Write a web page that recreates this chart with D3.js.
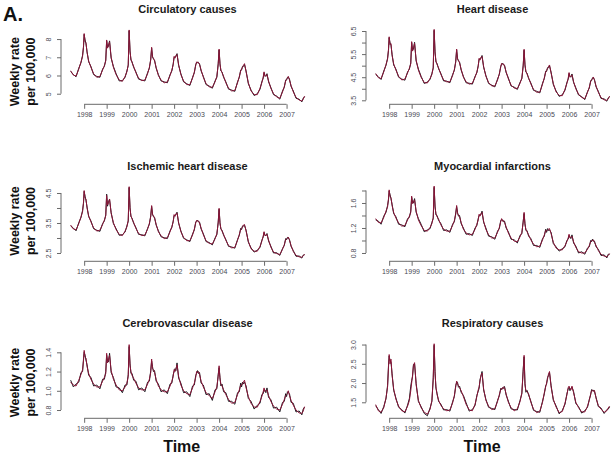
<!DOCTYPE html>
<html><head><meta charset="utf-8">
<script src="https://cdn.jsdelivr.net/npm/d3@7"></script>
<style>body{margin:0;background:#fff}svg{display:block}</style>
</head><body><svg id="c" width="613" height="455"></svg>
<script>
const TIME = [1997.40,1997.52,1997.64,1997.76,1997.86,1997.93,1997.97,
1998.00,1998.04,1998.08,1998.13,1998.20,1998.30,1998.42,1998.56,1998.70,1998.82,1998.90,1998.96,
1999.00,1999.04,1999.08,1999.13,1999.20,1999.30,1999.42,1999.56,1999.70,1999.82,1999.90,1999.96,
2000.00,2000.04,2000.08,2000.13,2000.20,2000.30,2000.42,2000.56,2000.70,2000.82,2000.90,2000.96,
2001.00,2001.04,2001.08,2001.13,2001.20,2001.30,2001.42,2001.56,2001.70,2001.82,2001.90,2001.96,
2002.00,2002.04,2002.08,2002.13,2002.20,2002.30,2002.42,2002.56,2002.70,2002.82,2002.90,2002.96,
2003.00,2003.04,2003.08,2003.13,2003.20,2003.30,2003.42,2003.56,2003.70,2003.82,2003.90,2003.96,
2004.00,2004.04,2004.08,2004.13,2004.20,2004.30,2004.42,2004.56,2004.70,2004.82,2004.90,2004.96,
2005.00,2005.04,2005.08,2005.13,2005.20,2005.30,2005.42,2005.56,2005.70,2005.82,2005.90,2005.96,
2006.00,2006.04,2006.08,2006.13,2006.20,2006.30,2006.42,2006.56,2006.70,2006.82,2006.90,2006.96,
2007.00,2007.04,2007.08,2007.13,2007.20,2007.30,2007.42,2007.56,2007.68,2007.74,2007.80];

const circFit = [6.26,6.02,5.97,6.35,6.75,7.05,7.6,8.3,7.85,7.8,
7.25,6.8,6.45,6.1,5.9,5.95,6.3,6.55,6.8,7.95,
7.5,7.65,7.85,7.0,6.45,6.05,5.75,5.68,5.95,6.2,
6.6,8.5,7.3,6.9,6.7,6.5,6.15,5.85,5.72,5.75,
6.1,6.45,6.85,7.55,7.0,6.95,6.8,6.45,6.0,5.75,
5.6,5.65,6.0,6.3,6.6,7.05,6.95,7.1,7.15,6.6,
6.05,5.7,5.5,5.5,5.85,6.2,6.55,6.75,6.7,6.72,
6.6,6.3,5.9,5.55,5.38,5.35,5.65,5.95,6.6,7.45,
6.6,6.3,6.15,5.95,5.6,5.3,5.15,5.18,5.6,5.95,
6.25,6.35,6.45,6.55,6.65,6.2,5.6,5.15,4.95,4.95,
5.3,5.6,5.9,6.2,5.95,6.0,6.05,5.7,5.3,5.0,
4.82,4.75,5.1,5.4,5.7,5.8,5.85,5.95,5.75,5.45,
5.1,4.8,4.65,4.6,4.7,4.87];
const circObs = [6.22,6.05,5.93,6.4,6.7,7.12,7.55,8.25,7.95,7.75,
7.3,6.75,6.5,6.05,5.95,5.9,6.35,6.5,6.85,7.9,
7.55,7.6,7.9,6.95,6.5,6.1,5.7,5.72,5.9,6.25,
6.55,8.45,7.35,6.85,6.75,6.45,6.2,5.8,5.75,5.7,
6.15,6.4,6.9,7.5,7.05,6.9,6.85,6.4,6.05,5.7,
5.65,5.6,6.05,6.25,6.65,7.0,7.0,7.05,7.2,6.55,
6.1,5.65,5.55,5.45,5.9,6.15,6.6,6.7,6.75,6.68,
6.65,6.25,5.95,5.5,5.42,5.3,5.7,5.9,6.65,7.4,
6.65,6.25,6.2,5.9,5.65,5.25,5.2,5.13,5.65,5.9,
6.3,6.3,6.5,6.5,6.6,6.25,5.55,5.2,4.9,5.0,
5.25,5.65,5.85,6.15,6.0,5.95,6.1,5.65,5.35,4.95,
4.87,4.7,5.15,5.35,5.75,5.75,5.9,5.9,5.8,5.4,
5.15,4.75,4.7,4.55,4.75,4.83];

const heartFit = [4.66,4.48,4.44,4.73,5.05,5.28,5.71,6.25,5.90,5.95,
5.44,5.08,4.81,4.54,4.38,4.42,4.69,4.89,5.08,6.04,
5.63,5.75,5.97,5.24,4.81,4.50,4.27,4.25,4.45,4.62,
4.93,6.57,5.55,5.20,5.05,4.90,4.62,4.38,4.30,4.30,
4.57,4.84,5.15,5.72,5.28,5.24,5.12,4.85,4.50,4.30,
4.20,4.24,4.50,4.73,4.97,5.32,5.24,5.36,5.40,4.97,
4.54,4.27,4.12,4.12,4.38,4.66,4.93,5.10,5.06,5.08,
4.98,4.74,4.43,4.16,4.03,4.01,4.24,4.47,4.98,5.71,
5.00,4.76,4.64,4.48,4.21,3.97,3.85,3.86,4.20,4.48,
4.72,4.79,4.87,4.95,5.03,4.68,4.22,3.87,3.71,3.70,
3.98,4.22,4.45,4.70,4.50,4.54,4.60,4.31,4.00,3.77,
3.62,3.57,3.84,4.07,4.31,4.39,4.43,4.51,4.36,4.12,
3.85,3.62,3.52,3.50,3.56,3.68];
const heartObs = [4.62,4.52,4.40,4.77,5.01,5.33,5.66,6.21,5.98,5.90,
5.49,5.03,4.85,4.50,4.42,4.37,4.73,4.85,5.12,6.00,
5.68,5.71,6.01,5.20,4.85,4.54,4.23,4.29,4.41,4.66,
4.89,6.53,5.60,5.16,5.09,4.86,4.66,4.34,4.33,4.26,
4.61,4.80,5.19,5.68,5.32,5.20,5.16,4.81,4.54,4.26,
4.24,4.20,4.54,4.69,5.01,5.28,5.28,5.32,5.44,4.93,
4.58,4.23,4.16,4.08,4.42,4.62,4.97,5.06,5.10,5.04,
5.02,4.70,4.47,4.12,4.07,3.97,4.28,4.43,5.02,5.67,
5.04,4.72,4.68,4.44,4.25,3.93,3.89,3.82,4.24,4.44,
4.76,4.75,4.91,4.91,4.99,4.72,4.18,3.91,3.67,3.74,
3.94,4.26,4.41,4.66,4.54,4.50,4.64,4.27,4.04,3.73,
3.66,3.53,3.88,4.03,4.35,4.35,4.47,4.47,4.40,4.08,
3.89,3.58,3.56,3.46,3.60,3.65];

const ischFit = [3.43,3.30,3.27,3.48,3.71,3.88,4.19,4.58,4.33,4.30,
3.99,3.74,3.54,3.34,3.23,3.26,3.45,3.60,3.74,4.42,
4.10,4.18,4.30,3.82,3.51,3.28,3.12,3.08,3.23,3.37,
3.59,4.71,3.97,3.74,3.63,3.52,3.32,3.15,3.08,3.10,
3.29,3.49,3.71,4.08,3.77,3.74,3.66,3.46,3.21,3.07,
2.98,3.01,3.21,3.38,3.54,3.78,3.72,3.81,3.83,3.52,
3.21,3.02,2.91,2.91,3.10,3.30,3.50,3.59,3.56,3.57,
3.50,3.33,3.11,2.91,2.82,2.80,2.97,3.14,3.50,3.99,
3.48,3.32,3.23,3.12,2.92,2.75,2.67,2.69,2.92,3.12,
3.29,3.31,3.37,3.43,3.45,3.23,2.89,2.64,2.56,2.56,
2.72,2.89,3.06,3.21,3.07,3.10,3.12,2.93,2.70,2.53,
2.48,2.45,2.62,2.78,2.95,2.97,2.99,3.03,2.92,2.75,
2.55,2.42,2.37,2.36,2.40,2.46];
const ischObs = [3.40,3.33,3.24,3.51,3.68,3.92,4.15,4.55,4.39,4.26,
4.03,3.71,3.57,3.31,3.26,3.22,3.48,3.57,3.77,4.46,
4.06,4.22,4.27,3.85,3.48,3.31,3.09,3.11,3.20,3.40,
3.56,4.68,4.01,3.71,3.66,3.49,3.35,3.12,3.11,3.07,
3.32,3.46,3.74,4.05,3.80,3.71,3.69,3.43,3.24,3.04,
3.01,2.98,3.24,3.35,3.57,3.75,3.75,3.78,3.86,3.49,
3.24,2.99,2.94,2.88,3.13,3.27,3.53,3.56,3.59,3.54,
3.53,3.30,3.14,2.88,2.85,2.77,3.00,3.11,3.53,3.96,
3.51,3.29,3.26,3.09,2.95,2.72,2.70,2.66,2.95,3.09,
3.32,3.28,3.40,3.40,3.42,3.26,2.86,2.67,2.53,2.59,
2.69,2.92,3.03,3.18,3.10,3.07,3.15,2.90,2.73,2.50,
2.51,2.42,2.65,2.75,2.98,2.94,3.02,3.00,2.95,2.72,
2.58,2.39,2.40,2.33,2.43,2.44];

const myoFit = [1.35,1.29,1.28,1.37,1.47,1.54,1.67,1.81,1.70,1.69,
1.56,1.45,1.36,1.28,1.23,1.24,1.33,1.39,1.45,1.71,
1.59,1.62,1.65,1.47,1.33,1.24,1.16,1.15,1.21,1.27,
1.37,1.87,1.53,1.43,1.38,1.34,1.25,1.18,1.15,1.15,
1.24,1.32,1.42,1.56,1.43,1.41,1.38,1.29,1.18,1.12,
1.09,1.10,1.18,1.26,1.33,1.42,1.39,1.43,1.45,1.31,
1.18,1.09,1.04,1.04,1.13,1.21,1.30,1.35,1.31,1.32,
1.29,1.22,1.12,1.04,0.99,0.98,1.06,1.13,1.29,1.45,
1.25,1.18,1.14,1.09,1.01,0.94,0.90,0.91,1.01,1.09,
1.16,1.15,1.17,1.18,1.19,1.11,0.97,0.88,0.85,0.85,
0.92,0.98,1.04,1.10,1.04,1.05,1.07,0.98,0.89,0.82,
0.80,0.80,0.86,0.92,0.98,1.00,1.00,1.01,0.97,0.92,
0.84,0.78,0.75,0.74,0.76,0.79];
const myoObs = [1.33,1.31,1.26,1.39,1.45,1.56,1.65,1.79,1.73,1.67,
1.58,1.43,1.38,1.26,1.25,1.22,1.35,1.37,1.47,1.69,
1.61,1.60,1.67,1.45,1.35,1.26,1.14,1.17,1.19,1.29,
1.35,1.85,1.55,1.41,1.40,1.32,1.27,1.16,1.17,1.13,
1.26,1.30,1.44,1.54,1.45,1.39,1.40,1.27,1.20,1.10,
1.11,1.08,1.20,1.24,1.35,1.40,1.41,1.41,1.47,1.29,
1.20,1.07,1.06,1.02,1.15,1.19,1.32,1.33,1.33,1.30,
1.31,1.20,1.14,1.02,1.01,0.96,1.08,1.11,1.31,1.43,
1.27,1.16,1.16,1.07,1.03,0.92,0.92,0.89,1.03,1.07,
1.18,1.13,1.19,1.16,1.17,1.13,0.95,0.90,0.83,0.87,
0.90,1.00,1.02,1.08,1.06,1.03,1.09,0.96,0.91,0.80,
0.82,0.78,0.88,0.90,1.00,0.98,1.02,0.99,0.99,0.90,
0.86,0.76,0.77,0.72,0.78,0.78];

const cereFit = [1.09,1.06,1.05,1.11,1.17,1.22,1.31,1.42,1.35,1.34,
1.25,1.18,1.12,1.07,1.04,1.04,1.10,1.14,1.18,1.39,
1.29,1.32,1.37,1.21,1.12,1.06,1.01,1.00,1.04,1.08,
1.15,1.48,1.26,1.20,1.16,1.13,1.08,1.03,1.01,1.01,
1.07,1.12,1.19,1.33,1.23,1.22,1.19,1.12,1.05,1.01,
0.99,0.99,1.05,1.10,1.15,1.22,1.20,1.23,1.27,1.15,
1.06,1.00,0.97,0.96,1.03,1.08,1.14,1.20,1.19,1.20,
1.17,1.10,1.04,0.98,0.95,0.92,0.99,1.04,1.15,1.26,
1.12,1.07,1.05,1.01,0.96,0.91,0.87,0.88,0.96,1.01,
1.06,1.06,1.07,1.09,1.11,1.03,0.94,0.87,0.83,0.83,
0.89,0.94,0.99,1.03,0.99,1.00,1.01,0.95,0.89,0.84,
0.81,0.80,0.86,0.91,0.95,0.96,0.97,1.00,0.95,0.90,
0.85,0.80,0.77,0.765,0.79,0.835];
const cereObs = [1.11,1.04,1.07,1.09,1.19,1.20,1.33,1.40,1.37,1.32,
1.27,1.16,1.14,1.05,1.06,1.02,1.12,1.12,1.20,1.37,
1.31,1.30,1.39,1.19,1.14,1.04,1.03,0.98,1.06,1.06,
1.17,1.46,1.28,1.18,1.18,1.11,1.10,1.01,1.03,0.99,
1.09,1.10,1.21,1.31,1.25,1.20,1.21,1.10,1.07,0.99,
1.01,0.97,1.07,1.08,1.17,1.20,1.23,1.21,1.29,1.13,
1.08,0.98,0.99,0.94,1.05,1.06,1.16,1.18,1.21,1.18,
1.19,1.08,1.06,0.96,0.97,0.90,1.01,1.02,1.17,1.24,
1.14,1.05,1.07,0.99,0.98,0.89,0.89,0.86,0.98,0.99,
1.08,1.04,1.09,1.07,1.09,1.05,0.92,0.89,0.81,0.85,
0.87,0.96,0.97,1.01,1.01,0.98,1.03,0.93,0.91,0.82,
0.83,0.78,0.88,0.89,0.97,0.94,0.99,0.98,0.97,0.88,
0.87,0.78,0.79,0.75,0.81,0.83];

const respFit = [1.44,1.28,1.24,1.36,1.62,1.9,2.4,2.74,2.5,2.62,
2.2,1.85,1.58,1.4,1.28,1.25,1.4,1.55,1.8,2.0,
2.2,2.45,2.53,1.95,1.55,1.36,1.24,1.19,1.32,1.55,
2.1,3.02,2.25,1.9,1.7,1.55,1.42,1.33,1.28,1.3,
1.48,1.68,1.9,2.05,1.98,1.93,1.88,1.8,1.65,1.45,
1.3,1.28,1.45,1.65,1.82,1.9,2.05,2.2,2.26,1.85,
1.55,1.4,1.31,1.34,1.52,1.7,1.83,1.87,1.84,1.9,
1.88,1.72,1.5,1.36,1.28,1.33,1.52,1.75,2.3,2.72,
1.95,1.8,1.78,1.72,1.5,1.32,1.23,1.27,1.5,1.75,
1.9,2.0,2.1,2.22,2.3,1.9,1.58,1.38,1.23,1.26,
1.48,1.68,1.88,1.92,1.85,1.82,1.92,1.75,1.5,1.36,
1.25,1.25,1.4,1.55,1.72,1.8,1.82,1.78,1.81,1.6,
1.42,1.32,1.24,1.28,1.35,1.4];
const respObs = [1.41,1.31,1.21,1.39,1.59,1.94,2.45,2.70,2.58,2.56,
2.24,1.81,1.61,1.37,1.31,1.22,1.43,1.60,1.92,2.06,
2.17,2.48,2.50,1.99,1.52,1.39,1.21,1.15,1.35,1.52,
2.14,2.98,2.30,1.86,1.73,1.52,1.45,1.30,1.31,1.27,
1.51,1.65,1.94,2.01,2.02,1.89,1.92,1.76,1.68,1.49,
1.27,1.31,1.42,1.68,1.79,1.86,2.09,2.17,2.30,1.82,
1.58,1.37,1.34,1.31,1.55,1.67,1.86,1.83,1.88,1.86,
1.91,1.69,1.53,1.33,1.31,1.30,1.55,1.72,2.36,2.68,
1.99,1.76,1.81,1.69,1.53,1.29,1.26,1.24,1.53,1.72,
1.93,1.97,2.14,2.19,2.27,1.94,1.55,1.41,1.20,1.29,
1.45,1.71,1.85,1.89,1.80,1.86,1.89,1.78,1.47,1.39,
1.22,1.28,1.37,1.58,1.69,1.83,1.79,1.82,1.78,1.63,
1.39,1.35,1.21,1.31,1.32,1.38];

const titles = ["Circulatory causes","Heart disease","Ischemic heart disease","Myocardial infarctions","Cerebrovascular disease","Respiratory causes"];
const yearTicks = [1998,1999,2000,2001,2002,2003,2004,2005,2006,2007];
const circTicks = [5,6,7,8], circLabels = ["5","6","7","8"];
const heartTicks = [3.5,4,4.5,5,5.5,6,6.5], heartLabels = ["3.5","","4.5","","5.5","","6.5"];
const ischTicks = [2.5,3,3.5,4,4.5], ischLabels = ["2.5","","3.5","","4.5"];
const myoTicks = [0.8,1.0,1.2,1.4,1.6,1.8], myoLabels = ["0.8","","1.2","","1.6",""];
const cereTicks = [0.8,1.0,1.2,1.4], cereLabels = ["0.8","1.0","1.2","1.4"];
const respTicks = [1.5,2.0,2.5,3.0], respLabels = ["1.5","2.0","2.5","3.0"];

const panels = [
 {fit:circFit, obs:circObs, ticks:circTicks, labels:circLabels, ylim:[4.419,8.70]},
 {fit:heartFit, obs:heartObs, ticks:heartTicks, labels:heartLabels, ylim:[3.327,6.704]},
 {fit:ischFit, obs:ischObs, ticks:ischTicks, labels:ischLabels, ylim:[2.223,4.823]},
 {fit:myoFit, obs:myoObs, ticks:myoTicks, labels:myoLabels, ylim:[0.667,1.915]},
 {fit:cereFit, obs:cereObs, ticks:cereTicks, labels:cereLabels, ylim:[0.714,1.525]},
 {fit:respFit, obs:respObs, ticks:respTicks, labels:respLabels, ylim:[1.084,3.11]}
];

const svg = d3.select("#c");
svg.append("rect").attr("width",613).attr("height",455).attr("fill","#ffffff");
const FONT = "'Liberation Sans', Arial, Helvetica, sans-serif";
const colLeft = [61, 366], plotW = 253, plotH = 78, rowBottom = [104.3, 261.3, 418.3];
const xlim = [1996.97, 2008.22];
const axisCol = "#6a6a6a", tickTextCol = "#4a4a55";
const ylabCenters = [71.7, 221, 382.5];
const timeX = [181.7, 482];

panels.forEach((p, i) => {
  const col = i % 2, row = Math.floor(i / 2);
  const left = colLeft[col], bottom = rowBottom[row], top = bottom - plotH;
  const x = d3.scaleLinear().domain(xlim).range([left, left + plotW]);
  const y = d3.scaleLinear().domain(p.ylim).range([bottom, top]);
  const g = svg.append("g");

  g.append("text").attr("x", left + plotW/2).attr("y", top - 13)
    .attr("text-anchor","middle").attr("font-family",FONT).attr("font-weight","bold")
    .attr("font-size",11).attr("fill","#1a1a1a").text(titles[i]);

  const xa = d3.axisBottom(x).tickValues(yearTicks).tickFormat(d3.format("d")).tickSize(4.5).tickPadding(3.5);
  const gx = g.append("g").attr("transform",`translate(0,${bottom})`).call(xa);
  gx.select(".domain").attr("d", `M${x(yearTicks[0])},0H${x(yearTicks[yearTicks.length-1])}`).attr("stroke",axisCol);
  gx.selectAll(".tick line").attr("stroke",axisCol);
  gx.selectAll(".tick text").attr("font-family",FONT).attr("font-size",7).attr("fill",tickTextCol);

  const ya = d3.axisLeft(y).tickValues(p.ticks).tickFormat((d,k)=>p.labels[k]).tickSize(4).tickPadding(5);
  const gy = g.append("g").attr("transform",`translate(${left},0)`).call(ya);
  gy.select(".domain").attr("d", `M0,${y(p.ticks[0])}V${y(p.ticks[p.ticks.length-1])}`).attr("stroke",axisCol);
  gy.selectAll(".tick line").attr("stroke",axisCol);
  gy.selectAll(".tick text").attr("font-family",FONT).attr("font-size",7).attr("fill",tickTextCol)
    .attr("text-anchor","middle").attr("x",-9.8).attr("dy",0).attr("transform","rotate(-90,-9.8,0)")
    .attr("y",0);

  const cid = "clip" + i;
  svg.append("clipPath").attr("id",cid).append("rect").attr("x",left).attr("y",top).attr("width",plotW).attr("height",plotH);

  const mk = arr => d3.line().x((d,k)=>x(TIME[k])).y(d=>y(d))(arr.slice(0, TIME.length));
  g.append("path").attr("d", mk(p.obs)).attr("fill","none").attr("stroke","#1c1c22")
    .attr("stroke-width",1.0).attr("stroke-linejoin","round").attr("clip-path",`url(#${cid})`);
  g.append("path").attr("d", mk(p.fit)).attr("fill","none").attr("stroke","#8a1538")
    .attr("stroke-width",1.0).attr("stroke-linejoin","round").attr("clip-path",`url(#${cid})`);

  if (col === 0) {
    const cy = ylabCenters[row];
    [["Weekly rate",15],["per 100,000",31]].forEach(([t,cx]) => {
      svg.append("text").attr("x",cx).attr("y",cy).attr("text-anchor","middle")
        .attr("dominant-baseline","central").attr("transform",`rotate(-90,${cx},${cy})`)
        .attr("font-family",FONT).attr("font-weight","bold").attr("font-size",12.5)
        .attr("fill","#111").text(t);
    });
  }
  if (row === 2) {
    svg.append("text").attr("x",timeX[col]).attr("y",451.5).attr("text-anchor","middle")
      .attr("font-family",FONT).attr("font-weight","bold").attr("font-size",16)
      .attr("fill","#111").text("Time");
  }
});

svg.append("text").attr("x",3).attr("y",21).attr("font-family",FONT).attr("font-weight","bold")
  .attr("font-size",20).attr("fill","#111").text("A.");
</script></body></html>
